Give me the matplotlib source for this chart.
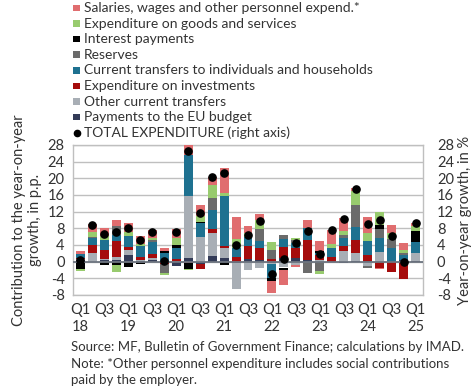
import matplotlib
matplotlib.use("Agg")
import matplotlib.pyplot as plt
from matplotlib.patches import Rectangle
import numpy as np

plt.rcParams['font.family'] = ['Lato', 'DejaVu Sans']

quarters = ["Q1", "Q2", "Q3", "Q4"]
years = ["18", "19", "20", "21", "22", "23", "24", "25"]

# contributions (p.p.), Q1 2018 .. Q1 2025
eu_budget = [0.3, -0.2, 0.4, 0.4, 1.6, 0.2, 0.5, 0.0, -1.0, 0.9, -0.5, 1.4, 0.8, -0.3, 0.6, 0.4,
             -0.3, 0.8, 1.0, 0.4, 0.0, 0.0, -0.3, 0.2, 0.2, 0.0, 0.0, 0.3, 0.2]
other_transfers = [0.3, 2.0, 0.2, 0.8, 1.2, 0.2, 0.5, 0.0, 0.2, 14.8, 6.0, 5.4, 2.4, -6.2, -2.1, -1.6,
                   -0.3, -1.4, -0.8, 0.0, 0.3, 0.0, 2.6, 1.8, -1.0, 2.4, 0.0, 0.2, 1.8]
investments = [0.3, 2.0, 2.2, 3.8, 0.8, 0.8, 0.8, -0.5, 0.4, -0.3, -1.3, 1.0, 0.6, 1.2, 3.2, 3.0,
               0.6, 2.8, 2.4, 4.8, 1.2, 1.2, 1.2, 3.1, 1.3, -1.5, -2.5, -4.2, 0.0]
households = [1.0, 1.8, 2.4, 1.4, 2.6, 2.6, 3.0, 2.2, 2.6, 10.0, 3.2, 4.5, 12.0, 2.2, 2.1, 1.6,
              -3.3, 1.9, 1.1, 2.8, 0.6, 2.1, 2.0, 3.2, 3.4, 3.2, 3.4, 1.2, 2.7]
reserves = [0.0, 0.2, 0.0, 2.2, 0.0, 0.0, 0.4, -2.3, 0.0, 0.0, 0.0, 2.9, 0.0, 0.0, 0.0, 2.8,
            2.2, 1.0, 0.6, -2.7, -2.2, 0.0, 0.5, 5.4, -0.5, 2.2, 2.1, 0.3, 0.0]
interest = [-1.7, 0.0, -0.9, -0.8, -1.2, -0.6, 0.0, 0.3, 0.8, -1.4, 0.4, 0.0, -0.8, 0.0, 0.0, 0.0,
            -0.8, -0.6, 0.0, 0.0, 0.4, 0.0, 0.0, 0.0, 0.0, 1.1, 0.0, 0.0, 2.6]
goods_services = [-0.5, 1.2, 1.0, -1.6, 1.0, 0.4, 0.5, -0.3, 1.6, -0.3, 1.3, 3.1, 0.8, 2.0, 1.1, 2.1,
                  2.0, 0.0, 0.6, 0.0, -0.8, 1.0, 1.0, 3.2, 2.0, 2.9, 1.5, 0.8, 1.3]
salaries = [0.6, 1.8, 1.8, 1.4, 2.2, 2.0, 1.9, 0.8, 2.2, 2.4, 2.8, 2.0, 5.9, 5.3, 1.6, 1.6,
            -2.9, -3.6, -0.4, 2.0, 2.4, 3.2, 3.3, 0.8, 3.8, -0.3, 1.9, 1.6, 0.7]
total = [0.3, 8.8, 6.6, 7.1, 8.1, 5.3, 7.1, 0.2, 7.2, 26.5, 11.7, 20.2, 21.4, 4.1, 6.3, 9.7,
         -2.9, 0.6, 4.5, 7.3, 1.9, 7.5, 10.3, 17.5, 9.0, 10.1, 6.1, -0.2, 9.3]

series = [
    ("Payments to the EU budget", eu_budget, "#333B57"),
    ("Other current transfers", other_transfers, "#A8AEB5"),
    ("Expenditure on investments", investments, "#A50C0C"),
    ("Current transfers to individuals and households", households, "#1E7190"),
    ("Reserves", reserves, "#6B6B6B"),
    ("Interest payments", interest, "#000000"),
    ("Expenditure on goods and services", goods_services, "#98CB6E"),
    ("Salaries, wages and other personnel expend.*", salaries, "#E06D6F"),
]

n = len(total)
x = np.arange(n)
labels = []
for i in range(n):
    q = i % 4
    if q == 0:
        labels.append("Q1\n" + years[i // 4])
    elif q == 2:
        labels.append("Q3")
    else:
        labels.append("")

fig = plt.figure(figsize=(4.75, 3.88), dpi=100)
ax = fig.add_axes([73/475, 1 - 295/388, 350/475, 150/388])

pos_base = np.zeros(n)
neg_base = np.zeros(n)
for name, vals, col in series:
    v = np.array(vals)
    b = np.where(v >= 0, pos_base, neg_base)
    ax.bar(x, v, bottom=b, width=0.75, color=col, zorder=3, linewidth=0)
    pos_base = pos_base + np.where(v > 0, v, 0)
    neg_base = neg_base + np.where(v < 0, v, 0)

ax.set_xlim(-0.6, n - 0.4)
ax.set_ylim(-8, 28)
yt = np.arange(-8, 29, 4)
ax.set_yticks(yt)
ax.set_yticklabels([str(t) for t in yt])
ax.set_xticks(x)
ax.set_xticklabels(labels)
ax.grid(axis='y', color='#BFBFBF', linewidth=1, zorder=0)
ax.axhline(0, color='#6E7580', linewidth=1.3, zorder=4)
for s in ax.spines.values():
    s.set_color('#BFBFBF')
    s.set_linewidth(1)
ax.tick_params(axis='both', length=0, labelsize=10.5, colors='#333333', pad=6)
ax.tick_params(axis='x', pad=6)

ax2 = ax.twinx()
ax2.set_ylim(-8, 28)
ax2.set_yticks(yt)
ax2.set_yticklabels([str(t) for t in yt])
ax2.tick_params(axis='y', length=0, labelsize=10.5, colors='#333333', pad=10)
for s in ax2.spines.values():
    s.set_visible(False)
ax2.plot(x, total, linestyle='none', marker='o', markersize=5.2, color='black', zorder=5)

ax.set_ylabel("Contribution to the year-on-year\ngrowth, in p.p.", fontsize=10.5, color='#333333', labelpad=4)
ax2.set_ylabel("Year-on-year growth, in %", fontsize=10.5, color='#333333', labelpad=3)

# legend
leg_items = [
    ("Salaries, wages and other personnel expend.*", "#E06D6F", "s"),
    ("Expenditure on goods and services", "#98CB6E", "s"),
    ("Interest payments", "#000000", "s"),
    ("Reserves", "#6B6B6B", "s"),
    ("Current transfers to individuals and households", "#1E7190", "s"),
    ("Expenditure on investments", "#A50C0C", "s"),
    ("Other current transfers", "#A8AEB5", "s"),
    ("Payments to the EU budget", "#333B57", "s"),
    ("TOTAL EXPENDITURE (right axis)", "#000000", "o"),
]
y0 = 8
dy = 15.6
for i, (lab, col, kind) in enumerate(leg_items):
    yc = y0 + i * dy
    if kind == "s":
        fig.patches.append(Rectangle((73/475, 1 - (yc + 3.2)/388), 6.5/475, 6.5/388,
                                     transform=fig.transFigure, facecolor=col, edgecolor='none'))
    else:
        fig.lines.append(plt.Line2D([76.5/475], [1 - yc/388], marker='o', markersize=4.5,
                                    color='black', transform=fig.transFigure))
    fig.text(84/475, 1 - yc/388, lab, fontsize=10, color='#333333', va='center', ha='left')

notes = ["Source: MF, Bulletin of Government Finance; calculations by IMAD.",
         "Note: *Other personnel expenditure includes social contributions",
         "paid by the employer."]
for i, t in enumerate(notes):
    fig.text(71/475, 1 - (347 + i * 16.5)/388, t, fontsize=9.5, color='#333333', va='center', ha='left')

fig.savefig("out.png", dpi=100)
